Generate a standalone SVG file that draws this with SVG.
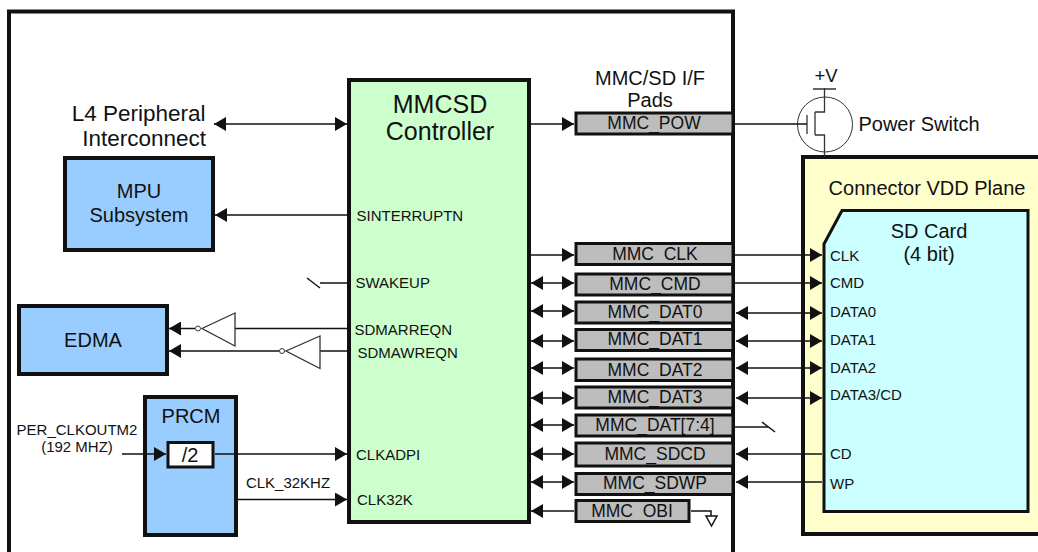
<svg xmlns="http://www.w3.org/2000/svg" width="1038" height="552" viewBox="0 0 1038 552">
<style>
text{font-family:"Liberation Sans",Arial,sans-serif;fill:#111;text-anchor:middle}
.xl{font-size:25px}.big{font-size:22.500px}.m{font-size:20px}.p{font-size:17.500px}.s{font-size:15px;text-anchor:start}.t{font-size:15px}
.box{stroke:#111;stroke-width:4}
.pad{fill:#bdbdbd;stroke:#111;stroke-width:3}
.blue{fill:#99ccff}
.l{fill:none;stroke:#111;stroke-width:1.5}
.thin{fill:none;stroke:#333;stroke-width:1.300}
</style>
<defs>
<marker id="a" markerUnits="userSpaceOnUse" markerWidth="13" markerHeight="14" refX="12" refY="7" orient="auto-start-reverse"><path d="M0 0L12 7L0 14Z" fill="#111"/></marker>
</defs>
<g id="frame"><path d="M9 552V11.500H733V552" fill="none" stroke="#111" stroke-width="4"/></g>
<g id="vdd-plane"><rect x="803" y="157" width="240" height="377" fill="#ffffcc" class="box"/><text x="927" y="195" class="m">Connector VDD Plane</text></g>
<g id="sd-card"><path d="M824 244L842 210.500H1028V511.500H824Z" fill="#ccffff" stroke="#111" stroke-width="3"/>
<text x="929" y="238" class="m">SD Card</text><text x="929" y="261" class="m">(4 bit)</text>
<text x="830" y="261" class="s">CLK</text><text x="830" y="288" class="s">CMD</text><text x="830" y="317" class="s">DATA0</text><text x="830" y="345" class="s">DATA1</text><text x="830" y="373" class="s">DATA2</text><text x="830" y="400" class="s">DATA3/CD</text><text x="830" y="459" class="s">CD</text><text x="830" y="489" class="s">WP</text></g>
<g id="controller"><rect x="349" y="80" width="180" height="442" fill="#ccffcc" class="box"/>
<text x="440" y="113" class="xl">MMCSD</text><text x="440" y="140" class="xl">Controller</text>
<text x="356.500" y="221" class="s">SINTERRUPTN</text><text x="355.500" y="288" class="s">SWAKEUP</text><text x="354.500" y="335" class="s">SDMARREQN</text><text x="357.500" y="358" class="s">SDMAWREQN</text><text x="356" y="460" class="s">CLKADPI</text><text x="357" y="505" class="s">CLK32K</text></g>
<g id="mpu"><rect x="65" y="158" width="148" height="92" class="box blue"/><text x="139" y="198" class="m">MPU</text><text x="139" y="222" class="m">Subsystem</text></g>
<g id="edma"><rect x="19" y="306" width="148" height="68" class="box blue"/><text x="93" y="347" class="m">EDMA</text></g>
<g id="prcm"><rect x="145" y="397" width="91" height="138" class="box blue"/><text x="191" y="423" class="m">PRCM</text><rect x="168" y="442.500" width="45" height="24.500" fill="#fff" stroke="#111" stroke-width="3"/><text x="190" y="462" class="m">/2</text></g>
<g id="pads">
<g id="pad-pow"><rect x="576" y="113" width="157" height="21" class="pad"/><text x="654" y="129" class="p">MMC_POW</text></g>
<g id="pad-clk"><rect x="576" y="243.500" width="157" height="21" class="pad"/><text x="655" y="260" class="p">MMC_CLK</text></g>
<g id="pad-cmd"><rect x="576" y="274" width="157" height="21" class="pad"/><text x="655" y="290" class="p">MMC_CMD</text></g>
<g id="pad-dat0"><rect x="576" y="302" width="157" height="21" class="pad"/><text x="655" y="318" class="p">MMC_DAT0</text></g>
<g id="pad-dat1"><rect x="576" y="329.500" width="157" height="21" class="pad"/><text x="655" y="345" class="p">MMC_DAT1</text></g>
<g id="pad-dat2"><rect x="576" y="359" width="157" height="21.500" class="pad"/><text x="655" y="376" class="p">MMC_DAT2</text></g>
<g id="pad-dat3"><rect x="576" y="387" width="157" height="21" class="pad"/><text x="655" y="403" class="p">MMC_DAT3</text></g>
<g id="pad-dat74"><rect x="576" y="415" width="157" height="21" class="pad"/><text x="655" y="431" class="p">MMC_DAT[7:4]</text></g>
<g id="pad-sdcd"><rect x="576" y="443" width="157" height="23" class="pad"/><text x="655" y="460" class="p">MMC_SDCD</text></g>
<g id="pad-sdwp"><rect x="576" y="473.500" width="157" height="21" class="pad"/><text x="655" y="489" class="p">MMC_SDWP</text></g>
<g id="pad-obi"><rect x="576" y="500.500" width="113" height="21" class="pad"/><text x="632" y="517" class="p">MMC_OBI</text></g>
</g>
<g id="switch"><circle cx="825" cy="124.500" r="27.500" fill="#fff" stroke="#333" stroke-width="1"/>
<path class="thin" d="M807 115V134M815 112V135M815 112H824.500V88M815 135H824.500V157M813 89H836"/></g>
<g id="connectors">
<path class="l" d="M214 124H347" marker-start="url(#a)" marker-end="url(#a)"/>
<path class="l" d="M530 124H574" marker-end="url(#a)"/>
<path class="l" d="M735 124H807"/>
<path class="l" d="M347 215H215" marker-end="url(#a)"/>
<path class="l" d="M347 283H320"/><path class="l" d="M307 278L320 288"/>
<path class="l" d="M530 255H574" marker-end="url(#a)"/>
<path class="l" d="M735 255H822" marker-end="url(#a)"/>
<path class="l" d="M531 283H574" marker-start="url(#a)" marker-end="url(#a)"/>
<path class="l" d="M531 311H574" marker-start="url(#a)" marker-end="url(#a)"/>
<path class="l" d="M531 341H574" marker-start="url(#a)" marker-end="url(#a)"/>
<path class="l" d="M531 368H574" marker-start="url(#a)" marker-end="url(#a)"/>
<path class="l" d="M531 398H574" marker-start="url(#a)" marker-end="url(#a)"/>
<path class="l" d="M531 425H574" marker-start="url(#a)" marker-end="url(#a)"/>
<path class="l" d="M531 454H574" marker-start="url(#a)" marker-end="url(#a)"/>
<path class="l" d="M531 482H574" marker-start="url(#a)" marker-end="url(#a)"/>
<path class="l" d="M736 313H822" marker-start="url(#a)" marker-end="url(#a)"/>
<path class="l" d="M736 341H822" marker-start="url(#a)" marker-end="url(#a)"/>
<path class="l" d="M736 368H822" marker-start="url(#a)" marker-end="url(#a)"/>
<path class="l" d="M736 398H822" marker-start="url(#a)" marker-end="url(#a)"/>
<path class="l" d="M735 283H822" marker-end="url(#a)"/>
<path class="l" d="M735 427H768"/><path class="l" d="M762 422L775 432"/>
<path class="l" d="M822 454H736" marker-end="url(#a)"/>
<path class="l" d="M822 482H736" marker-end="url(#a)"/>
<path class="l" d="M574 511H531" marker-end="url(#a)"/>
<path class="l" d="M691 511H711V516"/><path class="l" d="M706 516H717L711.500 526Z"/>
<path class="l" d="M347 328.500H235"/><path class="thin" d="M235 313L202 328.500L235 346Z"/><circle cx="198" cy="328.500" r="2.500" fill="#fff" stroke="#333"/><path class="l" d="M195 328.500H169" marker-end="url(#a)"/>
<path class="l" d="M347 351H320"/><path class="thin" d="M320 336L286 351L320 368.500Z"/><circle cx="282" cy="351" r="2.500" fill="#fff" stroke="#333"/><path class="l" d="M279 351H169" marker-end="url(#a)"/>
<path class="l" d="M122 454H166" marker-end="url(#a)"/>
<path class="l" d="M215 454H347" marker-end="url(#a)"/>
<path class="l" d="M237 499.500H347" marker-end="url(#a)"/>
</g>
<g id="labels">
<text x="205.500" y="121" class="big" style="text-anchor:end">L4 Peripheral</text><text x="206" y="146" class="big" style="text-anchor:end">Interconnect</text>
<text x="650" y="85" class="m">MMC/SD I/F</text><text x="650" y="107" class="m">Pads</text>
<text x="826" y="82" class="m" style="font-size:18.500px">+V</text><text x="919" y="131" class="m">Power Switch</text>
<text x="77" y="435" class="t">PER_CLKOUTM2</text><text x="77" y="452" class="t">(192 MHZ)</text>
<text x="288" y="488" class="t">CLK_32KHZ</text>
</g>
</svg>
